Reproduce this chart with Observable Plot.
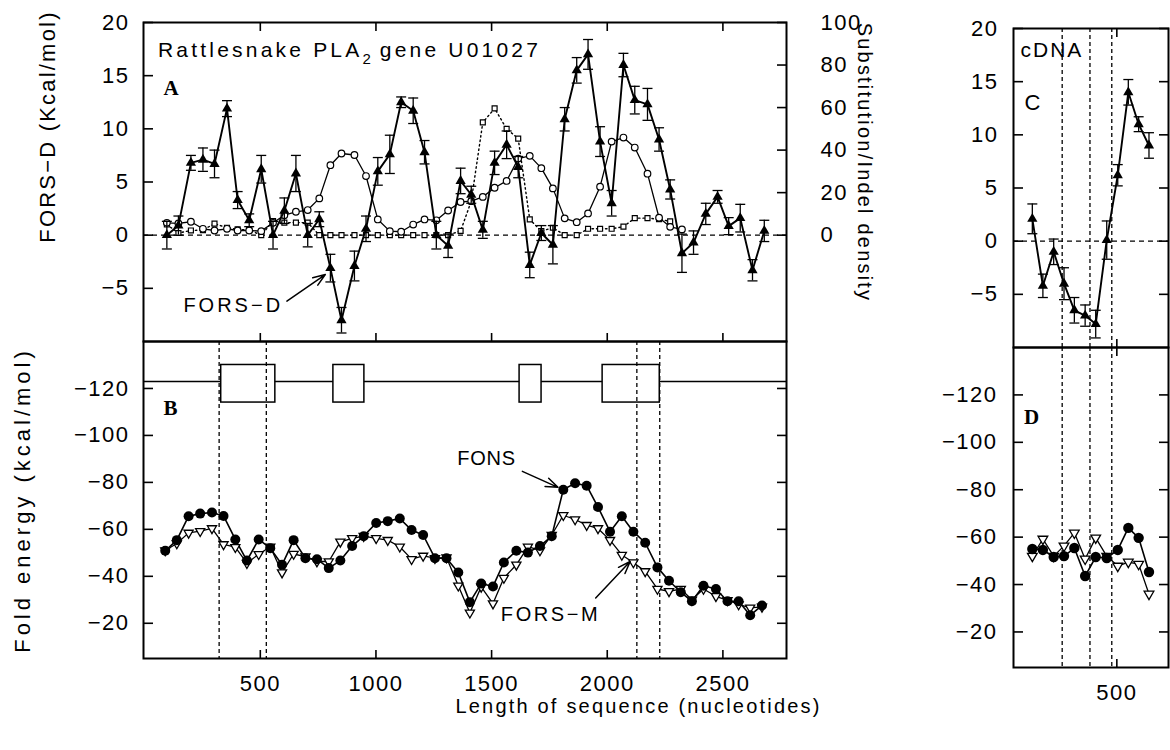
<!DOCTYPE html>
<html>
<head>
<meta charset="utf-8">
<script src="https://cdn.jsdelivr.net/npm/d3@7"></script>
<script src="https://cdn.jsdelivr.net/npm/@observablehq/plot@0.6"></script>
<style>
html, body { margin: 0; padding: 0; background: #fff; overflow: hidden; }
#fig { position: relative; width: 1170px; height: 750px; overflow: hidden; font-family: 'Liberation Sans', Arial, sans-serif; color: #000; }
#fig > * { position: absolute; }
#titleA { left: 158px; top: 39px; font-size: 21px; line-height: 21px; letter-spacing: 3.2px; white-space: nowrap; }
#titleA .sub { font-size: 15px; position: relative; top: 7px; letter-spacing: 0; }
</style>
</head>
<body>
<div id="fig"><div id="titleA">Rattlesnake PLA<span class="sub">2</span> gene U01027</div></div>
<script>
// ---------- data ----------
const positions = [96,146,200,252,302,356,402,452,504,555,604,654,705,755,803,851,907,957,1008,1060,1109,1161,1210,1261,1312,1366,1412,1462,1513,1565,1615,1665,1715,1765,1816,1868,1917,1969,2019,2070,2119,2174,2224,2272,2323,2373,2426,2477,2525,2575,2628,2679];
const forsD = [0,0.9,6.8,7.1,6.7,11.9,3.3,1.4,6.2,0,2.3,5.8,0,1.5,-3.1,-8,-2.9,0.6,6,7.6,12.5,11.7,7.8,0,-1,5.1,3.8,0.5,6.8,8.5,6.4,-2.8,0.2,-0.9,10.9,15.5,17,8.8,3,16,12.7,12.3,9,4.3,-1.7,-0.7,2,3.6,0.85,1.6,-3.3,0.4];
const forsDErr = [1.3,0.9,0.7,1.1,1.3,0.75,0.8,0.6,1.3,1.3,1.2,1.7,1.1,0.7,1.3,1.2,1.4,1.2,1.3,1.8,0.5,1.2,1.1,1.3,1.1,1.2,0.8,0.8,1.1,1.3,1,1.2,0.7,1.8,1.1,1.2,1.4,1.4,1.2,1.1,1.3,1.5,1.1,0.9,1.8,1.1,1,0.6,0.8,1.3,1,1];
const substitution = [5.8,5.5,6.3,3,2.2,3,2.2,2.2,1.9,5.8,9.4,11,11.8,17.3,32.9,38.4,37.7,27.8,7.4,1.9,1.6,5,7.4,7,11.6,15.6,16,18,22.3,25.5,36,37.3,31.5,22,7.9,6.1,10.2,22.8,44,45.9,41.2,28.9,8.2,3.9,2.7];
const indel = [5,1,2.2,2.4,5.4,3.5,2.7,2.4,0,6.6,5.9,5.9,5.9,0,0,0,0,0,0,0,0,0,0,0,0,2,16,53,59.6,50,45.4,7.4,1.9,3.5,0,0,3,3,3,4,8,8,7.5,6.5];
const foldPositions = [89,139,190,240,291,341,392,442,493,543,594,644,695,745,796,846,897,947,1001,1051,1103,1154,1204,1255,1305,1356,1406,1455,1506,1553,1607,1657,1709,1760,1810,1861,1911,1960,2012,2063,2113,2164,2217,2267,2318,2366,2416,2470,2520,2568,2618,2669];
const fons = [-50.9,-55.4,-65.6,-66.7,-67.2,-65.7,-55.7,-46.7,-55.7,-52,-44.9,-55.4,-47.7,-47.3,-43.5,-46.7,-52.9,-57.1,-62.7,-63.5,-64.6,-59.7,-57.6,-47.7,-47.7,-41.6,-29,-36.9,-35.7,-45.9,-50.9,-50.1,-52.9,-57.1,-76.9,-79.6,-78.6,-69.5,-59,-65.6,-59,-54.3,-43.8,-38.1,-33.2,-29.4,-36,-34.6,-29.4,-29.4,-23.4,-27.6];
const forsM = [-51,-54,-58.5,-59.2,-60.4,-53.6,-52.4,-45.6,-49.4,-52.6,-41.6,-49.5,-48.4,-46.3,-46.3,-54.7,-56.2,-57.1,-56.2,-55.4,-52.6,-47.3,-48.7,-47.7,-48,-36,-24.5,-35.5,-28.4,-39.3,-44.9,-52.6,-51,-57.6,-66,-64.2,-61.8,-60.4,-55.4,-49.1,-45.9,-42.1,-34.6,-33.6,-34.6,-30,-34.6,-31.5,-29.8,-28,-26.6,-27];
const exonStart = [331, 816, 1621, 1980];
const exonEnd = [565, 950, 1716, 2227];
const genomicBoundaries = [322, 526, 2128, 2227];
const cdnaPositions = [132,178,225,270,315,362,408,456,504,550,595,640];
const cdnaForsD = [2.1,-4.2,-1,-4,-6.5,-7,-7.8,0.1,6.2,14,11,9];
const cdnaForsDErr = [1.4,1.1,1.2,1.5,1.2,1,1.3,1.8,1,1.2,0.7,1.2];
const cdnaFons = [-55,-54.6,-51.6,-52,-55.4,-43.6,-51.6,-51.2,-54.6,-63.9,-59.7,-45.3];
const cdnaForsM = [-52,-59.2,-52,-56.3,-61.8,-50.8,-59.7,-52,-47.8,-49.5,-48.6,-36];
const cdnaBoundaries = [262, 383, 478];
const xTicksGenomic = [500, 1000, 1500, 2000, 2500];
const xTicksCdna = [500];
const yTicksFors = [-5, 0, 5, 10, 15, 20];
const yTicksDensity = [0, 20, 40, 60, 80, 100];
const yTicksFold = [-120, -100, -80, -60, -40, -20];
const densityPerUnit = 5; // right axis units per left-axis unit in panel A

// ---------- helpers ----------
const sans = "'Liberation Sans', Arial, Helvetica, sans-serif";
const serif = "'Liberation Serif', 'Times New Roman', serif";
const baseStyle = {background: "transparent", overflow: "visible", fontFamily: sans, fontSize: "20px", color: "black"};
const capSymbol = {draw(ctx, size) { const r = Math.sqrt(size / Math.PI); ctx.moveTo(-r, 0); ctx.lineTo(r, 0); }};
const zip = (xs, ys, es) => ys.map((y, i) => ({x: xs[i], y, e: es ? es[i] : 0}));
const fig = document.getElementById("fig");
const minus = d => String(d).replace("-", "\u2212");
function place(el, left, top) { el.style.position = "absolute"; el.style.left = left + "px"; el.style.top = top + "px"; fig.appendChild(el); }
function letterSpace(el, map) {
  d3.select(el).selectAll("text").each(function () {
    const t = this.textContent;
    const s = map[t] != null ? map[t] : (/^[\u2212\d]+$/.test(t) ? 1.5 : null);
    if (s != null) this.setAttribute("letter-spacing", s);
  });
}
function errorBars(data) {
  return [
    Plot.ruleX(data, {x: "x", y1: d => d.y - d.e, y2: d => d.y + d.e, strokeWidth: 1.3}),
    Plot.dot(data, {x: "x", y: d => d.y + d.e, symbol: capSymbol, r: 5, fill: "none", stroke: "black", strokeWidth: 1.3}),
    Plot.dot(data, {x: "x", y: d => d.y - d.e, symbol: capSymbol, r: 5, fill: "none", stroke: "black", strokeWidth: 1.3})
  ];
}
const spacing = {
  "FORS−D (Kcal/mol)": 2.2, "Fold energy (kcal/mol)": 4, "Substitution/Indel density": 2.2,
  "Length of sequence (nucleotides)": 2.2, "FORS−D": 3, "FONS": 0.8, "FORS−M": 2.6, "cDNA": 2
};
const lbl = {textAnchor: "middle", lineAnchor: "middle"};

const forsDRows = zip(positions, forsD, forsDErr);
const substRows = zip(positions, substitution);
const indelRows = zip(positions, indel);
const fonsRows = zip(foldPositions, fons);
const forsMRows = zip(foldPositions, forsM);
const exons = exonStart.map((s, i) => ({start: s, end: exonEnd[i]}));
const cForsDRows = zip(cdnaPositions, cdnaForsD, cdnaForsDErr);
const cFonsRows = zip(cdnaPositions, cdnaFons);
const cForsMRows = zip(cdnaPositions, cdnaForsM);

const genomicX = {domain: [-5, 2775], axis: null};
const cdnaX = {domain: [50, 725], axis: null};
const tick = {strokeWidth: 1.6, fontSize: 22, tickFormat: minus};

// ---------- Panel A ----------
const plotA = Plot.plot({
  width: 900, height: 345, marginLeft: 143, marginRight: 114, marginTop: 22, marginBottom: 4,
  style: baseStyle,
  x: genomicX,
  y: {domain: [-10, 20], axis: null},
  marks: [
    Plot.ruleY([0], {strokeDasharray: "5,4", strokeWidth: 1.3}),
    Plot.line(indelRows, {x: "x", y: d => d.y / densityPerUnit, strokeDasharray: "1.5,3", strokeWidth: 1.4}),
    Plot.dot(indelRows, {x: "x", y: d => d.y / densityPerUnit, symbol: "square", r: 2.8, fill: "white", stroke: "black", strokeWidth: 1.2}),
    Plot.line(substRows, {x: "x", y: d => d.y / densityPerUnit, strokeWidth: 1.3}),
    Plot.dot(substRows, {x: "x", y: d => d.y / densityPerUnit, r: 3.3, fill: "white", stroke: "black", strokeWidth: 1.2}),
    ...errorBars(forsDRows),
    Plot.line(forsDRows, {x: "x", y: "y", strokeWidth: 1.9}),
    Plot.dot(forsDRows, {x: "x", y: "y", symbol: "triangle", r: 3.8, fill: "black"}),
    Plot.frame({strokeWidth: 2}),
    Plot.axisY(yTicksFors, {anchor: "left", tickSize: -10, tickPadding: 24, label: null, ...tick}),
    Plot.axisY(yTicksDensity.map(d => d / densityPerUnit), {anchor: "right", tickSize: -10, tickPadding: 44, label: null, ...tick, tickFormat: d => String(Math.round(d * densityPerUnit))}),
    Plot.axisX(xTicksGenomic, {anchor: "top", tickSize: -8, fill: "none", label: null, ...tick}),
    Plot.axisX(xTicksGenomic, {anchor: "bottom", tickSize: -8, fill: "none", label: null, ...tick}),
    Plot.text(["A"], {frameAnchor: "top-left", dx: 20, dy: 66, ...lbl, textAnchor: "start", fontFamily: serif, fontWeight: "bold", fontSize: 21}),
    Plot.text(["FORS−D"], {x: 383, y: -6.6, fontSize: 20, ...lbl}),
    Plot.arrow([0], {x1: 615, y1: -6.2, x2: 781, y2: -3.7, headLength: 13, headAngle: 40, strokeWidth: 1.5}),
    Plot.text(["FORS−D (Kcal/mol)"], {frameAnchor: "left", rotate: -90, dx: -96, dy: -55.5, fontSize: 22, ...lbl}),
    Plot.text(["Substitution/Indel density"], {frameAnchor: "right", rotate: 90, dx: 78, dy: -19.5, fontSize: 20, ...lbl})
  ]
});
letterSpace(plotA, spacing);
place(plotA, 0, 0);

// ---------- Panel B ----------
const plotB = Plot.plot({
  width: 900, height: 413, marginLeft: 143, marginRight: 114, marginTop: 4, marginBottom: 92,
  style: baseStyle,
  x: genomicX,
  y: {domain: [-5, -140], axis: null},
  marks: [
    Plot.ruleY([-123], {strokeWidth: 1.5}),
    Plot.rect(exons, {x1: "start", x2: "end", y1: -114, y2: -130, fill: "white", stroke: "black", strokeWidth: 1.5}),
    Plot.ruleX(genomicBoundaries, {strokeDasharray: "4,3", strokeWidth: 1.3}),
    Plot.line(forsMRows, {x: "x", y: "y", strokeWidth: 1.3}),
    Plot.line(fonsRows, {x: "x", y: "y", strokeWidth: 1.6}),
    Plot.dot(forsMRows, {x: "x", y: "y", symbol: "triangle", rotate: 180, r: 3.4, fill: "white", stroke: "black", strokeWidth: 1.3}),
    Plot.dot(fonsRows, {x: "x", y: "y", r: 5, fill: "black"}),
    Plot.frame({strokeWidth: 2}),
    Plot.axisY(yTicksFold, {anchor: "left", tickSize: -10, tickPadding: 24, label: null, ...tick}),
    Plot.axisY(yTicksFold, {anchor: "right", tickSize: -10, fill: "none", label: null, ...tick}),
    Plot.axisX(xTicksGenomic, {anchor: "bottom", tickSize: -8, tickPadding: 25, label: null, ...tick}),
    Plot.text(["B"], {frameAnchor: "top-left", dx: 27, dy: 67, ...lbl, fontFamily: serif, fontWeight: "bold", fontSize: 21}),
    Plot.text(["FONS"], {x: 1478, y: -90, fontSize: 20, ...lbl}),
    Plot.arrow([0], {x1: 1633, y1: -84.7, x2: 1787, y2: -77.9, headLength: 13, headAngle: 40, strokeWidth: 1.5}),
    Plot.text(["FORS−M"], {x: 1755, y: -23.8, fontSize: 20, ...lbl}),
    Plot.arrow([0], {x1: 1950, y1: -30.8, x2: 2099, y2: -46.3, headLength: 13, headAngle: 40, strokeWidth: 1.5}),
    Plot.text(["Fold energy (kcal/mol)"], {frameAnchor: "left", rotate: -90, dx: -121, dy: 0, fontSize: 22, ...lbl}),
    Plot.text(["Length of sequence (nucleotides)"], {frameAnchor: "bottom", dx: 173.5, dy: 48, fontSize: 20, ...lbl})
  ]
});
letterSpace(plotB, spacing);
place(plotB, 0, 337);

// ---------- Panel C ----------
const plotC = Plot.plot({
  width: 270, height: 351, marginLeft: 113, marginRight: 2, marginTop: 28, marginBottom: 4,
  style: baseStyle,
  x: cdnaX,
  y: {domain: [-10, 20], axis: null},
  marks: [
    Plot.ruleY([0], {strokeDasharray: "5,4", strokeWidth: 1.3}),
    Plot.ruleX(cdnaBoundaries, {strokeDasharray: "4,3", strokeWidth: 1.3}),
    ...errorBars(cForsDRows),
    Plot.line(cForsDRows, {x: "x", y: "y", strokeWidth: 1.9}),
    Plot.dot(cForsDRows, {x: "x", y: "y", symbol: "triangle", r: 3.8, fill: "black"}),
    Plot.frame({strokeWidth: 2}),
    Plot.axisY(yTicksFors, {anchor: "left", tickSize: -10, tickPadding: 25, label: null, ...tick}),
    Plot.axisY(yTicksFors, {anchor: "right", tickSize: -10, fill: "none", label: null, ...tick}),
    Plot.axisX(xTicksCdna, {anchor: "top", tickSize: -8, fill: "none", label: null, ...tick}),
    Plot.axisX(xTicksCdna, {anchor: "bottom", tickSize: -8, fill: "none", label: null, ...tick}),
    Plot.text(["cDNA"], {frameAnchor: "top-left", dx: 7, dy: 22, ...lbl, textAnchor: "start", fontSize: 21}),
    Plot.text(["C"], {frameAnchor: "top-left", dx: 19, dy: 74, ...lbl, fontSize: 22})
  ]
});
letterSpace(plotC, spacing);
place(plotC, 900, 0);

// ---------- Panel D ----------
const plotD = Plot.plot({
  width: 270, height: 410, marginLeft: 113, marginRight: 2, marginTop: 7, marginBottom: 83,
  style: baseStyle,
  x: cdnaX,
  y: {domain: [-5, -140], axis: null},
  marks: [
    Plot.ruleX(cdnaBoundaries, {strokeDasharray: "4,3", strokeWidth: 1.3}),
    Plot.line(cForsMRows, {x: "x", y: "y", strokeWidth: 1.3}),
    Plot.line(cFonsRows, {x: "x", y: "y", strokeWidth: 1.6}),
    Plot.dot(cForsMRows, {x: "x", y: "y", symbol: "triangle", rotate: 180, r: 3.6, fill: "white", stroke: "black", strokeWidth: 1.3}),
    Plot.dot(cFonsRows, {x: "x", y: "y", r: 5.2, fill: "black"}),
    Plot.frame({strokeWidth: 2}),
    Plot.axisY(yTicksFold, {anchor: "left", tickSize: -10, tickPadding: 26, label: null, ...tick}),
    Plot.axisY(yTicksFold, {anchor: "right", tickSize: -10, fill: "none", label: null, ...tick}),
    Plot.axisX(xTicksCdna, {anchor: "top", tickSize: -8, fill: "none", label: null, ...tick}),
    Plot.axisX(xTicksCdna, {anchor: "bottom", tickSize: -8, tickPadding: 25, label: null, ...tick}),
    Plot.text(["D"], {frameAnchor: "top-left", dx: 18, dy: 70, ...lbl, fontFamily: serif, fontWeight: "bold", fontSize: 21})
  ]
});
letterSpace(plotD, spacing);
place(plotD, 900, 340);
</script>
</body>
</html>
